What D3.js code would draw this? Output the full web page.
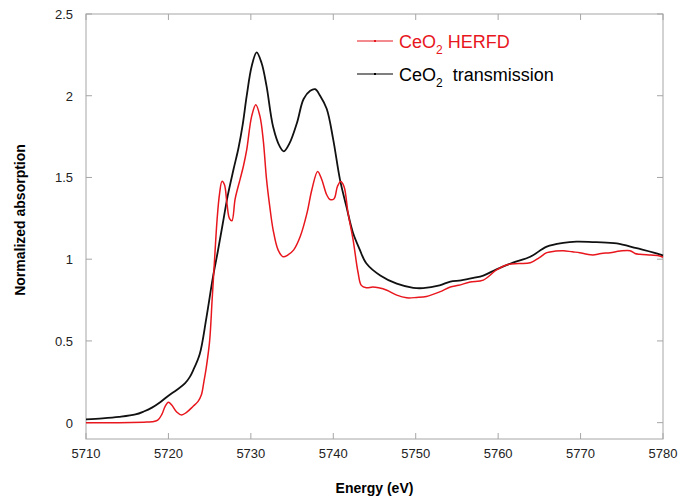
<!DOCTYPE html>
<html>
<head>
<meta charset="utf-8">
<script src="https://cdn.jsdelivr.net/npm/d3@7"></script>
<style>
  body { margin: 0; background: #fff; }
  svg { display: block; font-family: Arial, "Liberation Sans", sans-serif; }
</style>
</head>
<body>
<div id="chart"></div>
<script>
// CeO2 transmission (energy in eV, normalized absorption)
var transEnergy = [5710, 5712, 5714, 5716, 5717, 5718, 5719, 5720, 5721, 5722, 5722.6, 5723, 5723.8, 5724.6,
  5725.4, 5726, 5726.6, 5727.2, 5727.9, 5728.5, 5729, 5729.5, 5730.1, 5730.7, 5731.3, 5731.9, 5732.7, 5733.5,
  5734, 5734.7, 5735.6, 5736.4, 5737.2, 5737.8, 5738.4, 5739.2, 5740, 5740.8, 5741.6, 5742.4, 5743.2, 5744,
  5745.7, 5747.7, 5749.7, 5750.9, 5752.9, 5754.2, 5755.5, 5757, 5758.2, 5759.8, 5761.8, 5763.9, 5765.9,
  5767.9, 5769.5, 5771.9, 5774.4, 5776.8, 5779.6, 5780];
var transMu = [0.02, 0.026, 0.035, 0.05, 0.068, 0.092, 0.125, 0.165, 0.2, 0.24, 0.28, 0.32, 0.42, 0.64,
  0.89, 1.05, 1.22, 1.39, 1.55, 1.68, 1.82, 2.0, 2.18, 2.265, 2.2, 2.06, 1.81, 1.69,
  1.66, 1.71, 1.835, 1.98, 2.03, 2.04, 2.0, 1.92, 1.73, 1.49, 1.32, 1.16, 1.06, 0.975,
  0.9, 0.85, 0.825, 0.823, 0.84, 0.863, 0.87, 0.885, 0.9, 0.938, 0.979, 1.015, 1.077,
  1.1, 1.107, 1.104, 1.097, 1.067, 1.03, 1.022];

// CeO2 HERFD
var herfdEnergy = [5710, 5714, 5717, 5718, 5718.7, 5719.2, 5719.6, 5720, 5720.4, 5721, 5721.6, 5722.2, 5723,
  5723.6, 5724, 5724.3, 5724.6, 5725, 5725.3, 5725.6, 5725.9, 5726.2, 5726.5, 5726.8, 5727.1, 5727.4, 5727.7,
  5728.1, 5728.7, 5729.1, 5729.5, 5730.1, 5730.6, 5731.1, 5731.5, 5731.9, 5732.3, 5732.7, 5733.3, 5733.9,
  5734.5, 5735.2, 5736, 5736.8, 5737.4, 5738.1, 5738.6, 5739.2, 5739.6, 5740.1, 5740.5, 5740.9, 5741.3,
  5741.8, 5742.4, 5743, 5743.4, 5744, 5744.8, 5745.5, 5746.5, 5747.7, 5748.9, 5750.1, 5751.3, 5752.9,
  5754.2, 5755.2, 5756.6, 5758.2, 5759.8, 5761, 5762.5, 5763.9, 5765, 5765.9, 5767, 5767.9, 5769, 5769.9,
  5770.8, 5771.5, 5772.5, 5773.6, 5774.8, 5776, 5776.6, 5777.2, 5778.5, 5779.6, 5780];
var herfdMu = [0.0, 0.0, 0.003, 0.005, 0.015, 0.05, 0.1, 0.125, 0.108, 0.065, 0.047, 0.063, 0.1,
  0.13, 0.17, 0.25, 0.34, 0.5, 0.75, 1.0, 1.24, 1.4, 1.476, 1.455, 1.34, 1.25, 1.235,
  1.37, 1.49, 1.57, 1.67, 1.875, 1.945, 1.875, 1.73, 1.49, 1.32, 1.18, 1.057, 1.015,
  1.026, 1.057, 1.14, 1.28, 1.425, 1.537, 1.487, 1.394, 1.365, 1.37, 1.445, 1.476, 1.445,
  1.28, 1.12, 0.92, 0.84, 0.825, 0.83, 0.825, 0.81, 0.78, 0.764, 0.766, 0.772, 0.8,
  0.83, 0.84, 0.86, 0.872, 0.934, 0.965, 0.973, 0.978, 1.01, 1.04, 1.05, 1.052, 1.045, 1.04,
  1.03, 1.026, 1.035, 1.04, 1.05, 1.052, 1.035, 1.03, 1.025, 1.02, 1.012];

var xTicks = [5710, 5720, 5730, 5740, 5750, 5760, 5770, 5780];
var yTicks = [0, 0.5, 1, 1.5, 2, 2.5];

var width = 680, height = 497;
var margin = {top: 14, right: 17, bottom: 58, left: 86};
var frameColor = "#a6a6a6";

var svg = d3.select("#chart").append("svg")
  .attr("width", width)
  .attr("height", height);

var x = d3.scaleLinear().domain([5710, 5780]).range([margin.left, width - margin.right]);
var y = d3.scaleLinear().domain([-0.1, 2.5]).range([height - margin.bottom, margin.top]);

// frame
svg.append("rect")
  .attr("x", x(5710)).attr("y", y(2.5))
  .attr("width", x(5780) - x(5710)).attr("height", y(-0.1) - y(2.5))
  .attr("fill", "none").attr("stroke", frameColor).attr("stroke-width", 1);

// inward ticks on all four sides
var tickLen = 6;
xTicks.forEach(function(t) {
  svg.append("line").attr("x1", x(t)).attr("x2", x(t))
    .attr("y1", y(-0.1)).attr("y2", y(-0.1) - tickLen).attr("stroke", frameColor);
  svg.append("line").attr("x1", x(t)).attr("x2", x(t))
    .attr("y1", y(2.5)).attr("y2", y(2.5) + tickLen).attr("stroke", frameColor);
});
yTicks.forEach(function(t) {
  svg.append("line").attr("x1", x(5710)).attr("x2", x(5710) + tickLen)
    .attr("y1", y(t)).attr("y2", y(t)).attr("stroke", frameColor);
  svg.append("line").attr("x1", x(5780)).attr("x2", x(5780) - tickLen)
    .attr("y1", y(t)).attr("y2", y(t)).attr("stroke", frameColor);
});

// tick labels
svg.selectAll(".xlab").data(xTicks).enter().append("text")
  .attr("x", function(d) { return x(d); })
  .attr("y", y(-0.1) + 19)
  .attr("text-anchor", "middle")
  .attr("font-size", "13px")
  .attr("fill", "#222")
  .text(function(d) { return d; });

svg.selectAll(".ylab").data(yTicks).enter().append("text")
  .attr("x", x(5710) - 13)
  .attr("y", function(d) { return y(d) + 5; })
  .attr("text-anchor", "end")
  .attr("font-size", "13px")
  .attr("fill", "#222")
  .text(function(d) { return d; });

// axis titles
svg.append("text")
  .attr("x", (x(5710) + x(5780)) / 2)
  .attr("y", 493)
  .attr("text-anchor", "middle")
  .attr("font-size", "14px")
  .attr("font-weight", "bold")
  .text("Energy (eV)");

svg.append("text")
  .attr("transform", "translate(25," + 220 + ") rotate(-90)")
  .attr("text-anchor", "middle")
  .attr("font-size", "14px")
  .attr("font-weight", "bold")
  .text("Normalized absorption");

// curves
var line = d3.line()
  .x(function(d) { return x(d[0]); })
  .y(function(d) { return y(d[1]); })
  .curve(d3.curveCatmullRom.alpha(0.5));

var transData = d3.zip(transEnergy, transMu);
var herfdData = d3.zip(herfdEnergy, herfdMu);

svg.append("path")
  .datum(transData)
  .attr("d", line)
  .attr("fill", "none")
  .attr("stroke", "#111")
  .attr("stroke-width", 1.8);

svg.append("path")
  .datum(herfdData)
  .attr("d", line)
  .attr("fill", "none")
  .attr("stroke", "#e8161d")
  .attr("stroke-width", 1.5);

// legend
var legend = [
  {label: " HERFD", color: "#e8161d", y: 41},
  {label: "  transmission", color: "#000", y: 74}
];
legend.forEach(function(l) {
  svg.append("line").attr("x1", 357).attr("x2", 393)
    .attr("y1", l.y).attr("y2", l.y)
    .attr("stroke", l.color).attr("stroke-width", 1.2);
  svg.append("rect").attr("x", 374).attr("y", l.y - 1)
    .attr("width", 2).attr("height", 2).attr("fill", l.color);
  var t = svg.append("text")
    .attr("x", 399).attr("y", l.y + 7)
    .attr("font-size", "18px")
    .attr("fill", l.color)
    .attr("xml:space", "preserve")
    .style("white-space", "pre");
  t.append("tspan").text("CeO");
  t.append("tspan").attr("font-size", "12px").attr("dy", 6).text("2");
  t.append("tspan").attr("dy", -6).text(l.label);
});
</script>
</body>
</html>
